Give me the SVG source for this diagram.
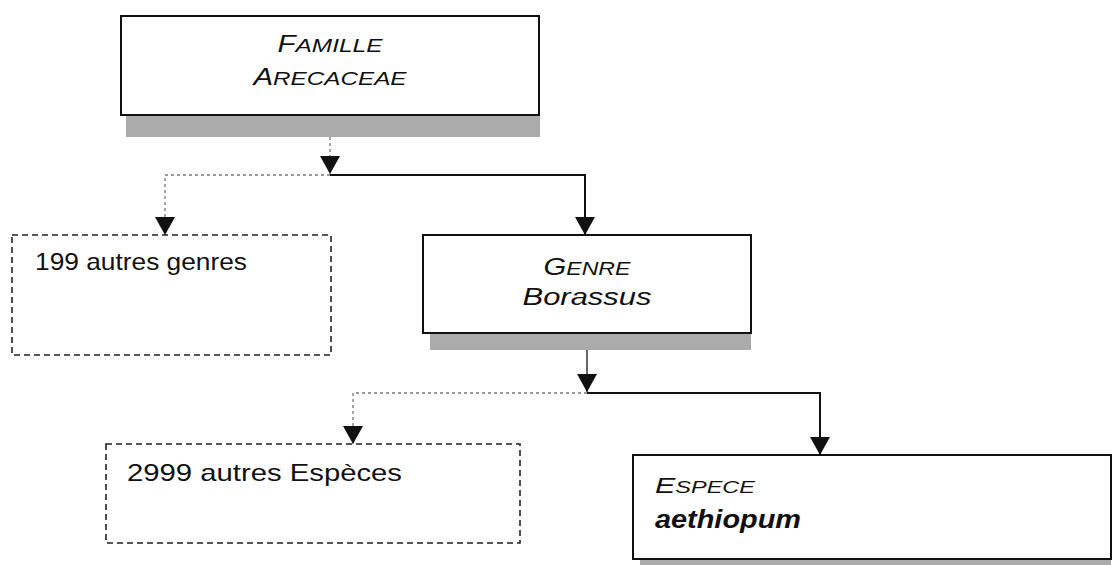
<svg xmlns="http://www.w3.org/2000/svg" width="1113" height="565" viewBox="0 0 1113 565">
<style>
.box{fill:#fff;stroke:#111;stroke-width:2}
.dbox{fill:#fff;stroke:#222;stroke-width:1.6;stroke-dasharray:6 4}
.shadow{fill:#ababab}
.t{font-family:"Liberation Sans",Arial,sans-serif;fill:#111}
.it{font-style:italic}
.solid{fill:none;stroke:#111;stroke-width:2}
.dot{fill:none;stroke:#777;stroke-width:1.3;stroke-dasharray:3 3}
</style>
<defs>
<marker id="ah" viewBox="0 0 18 20" refX="18" refY="10" markerWidth="18" markerHeight="20" markerUnits="userSpaceOnUse" orient="auto">
<path d="M0,0 L18,10 L0,20 z" fill="#111"/>
</marker>
</defs>
<rect width="1113" height="565" fill="#fff"/>
<g id="connectors">
<path class="dot" d="M330,137 V174" marker-end="url(#ah)"/>
<path class="dot" d="M330,175 H165 V235" marker-end="url(#ah)"/>
<path class="solid" d="M330,175 H585 V235" marker-end="url(#ah)"/>
<path class="solid" style="stroke-width:1.3" d="M587,350 V392" marker-end="url(#ah)"/>
<path class="dot" d="M587,393 H353 V444" marker-end="url(#ah)"/>
<path class="solid" d="M587,393 H820 V455" marker-end="url(#ah)"/>
</g>
<g id="famille">
<rect class="shadow" x="126" y="115" width="414" height="22"/>
<rect class="box" x="121" y="16" width="418" height="99"/>
<text class="t it" x="330" y="52" text-anchor="middle" textLength="105" lengthAdjust="spacingAndGlyphs"><tspan font-size="23">F</tspan><tspan font-size="19">AMILLE</tspan></text>
<text class="t it" x="330" y="85" text-anchor="middle" textLength="153" lengthAdjust="spacingAndGlyphs"><tspan font-size="23">A</tspan><tspan font-size="19">RECACEAE</tspan></text>
</g>
<g id="autres-genres">
<rect class="dbox" x="12" y="235" width="319" height="120"/>
<text class="t" x="35" y="270" font-size="24" textLength="212" lengthAdjust="spacingAndGlyphs">199 autres genres</text>
</g>
<g id="genre">
<rect class="shadow" x="430" y="333" width="321" height="17"/>
<rect class="box" x="423" y="235" width="328" height="98"/>
<text class="t it" x="587" y="275" text-anchor="middle" textLength="87" lengthAdjust="spacingAndGlyphs"><tspan font-size="24">G</tspan><tspan font-size="19">ENRE</tspan></text>
<text class="t it" x="587" y="305" text-anchor="middle" font-size="23" textLength="129" lengthAdjust="spacingAndGlyphs">Borassus</text>
</g>
<g id="autres-especes">
<rect class="dbox" x="106" y="444" width="414" height="99"/>
<text class="t" x="127" y="481" font-size="24" textLength="275" lengthAdjust="spacingAndGlyphs">2999 autres Espèces</text>
</g>
<g id="espece">
<rect class="shadow" x="640" y="559" width="471" height="6"/>
<rect class="box" x="633" y="455" width="478" height="104"/>
<text class="t it" x="655" y="493" textLength="100" lengthAdjust="spacingAndGlyphs"><tspan font-size="22">E</tspan><tspan font-size="17">SPECE</tspan></text>
<text class="t it" x="655" y="528" font-size="25" font-weight="bold" textLength="146" lengthAdjust="spacingAndGlyphs">aethiopum</text>
</g>
</svg>
